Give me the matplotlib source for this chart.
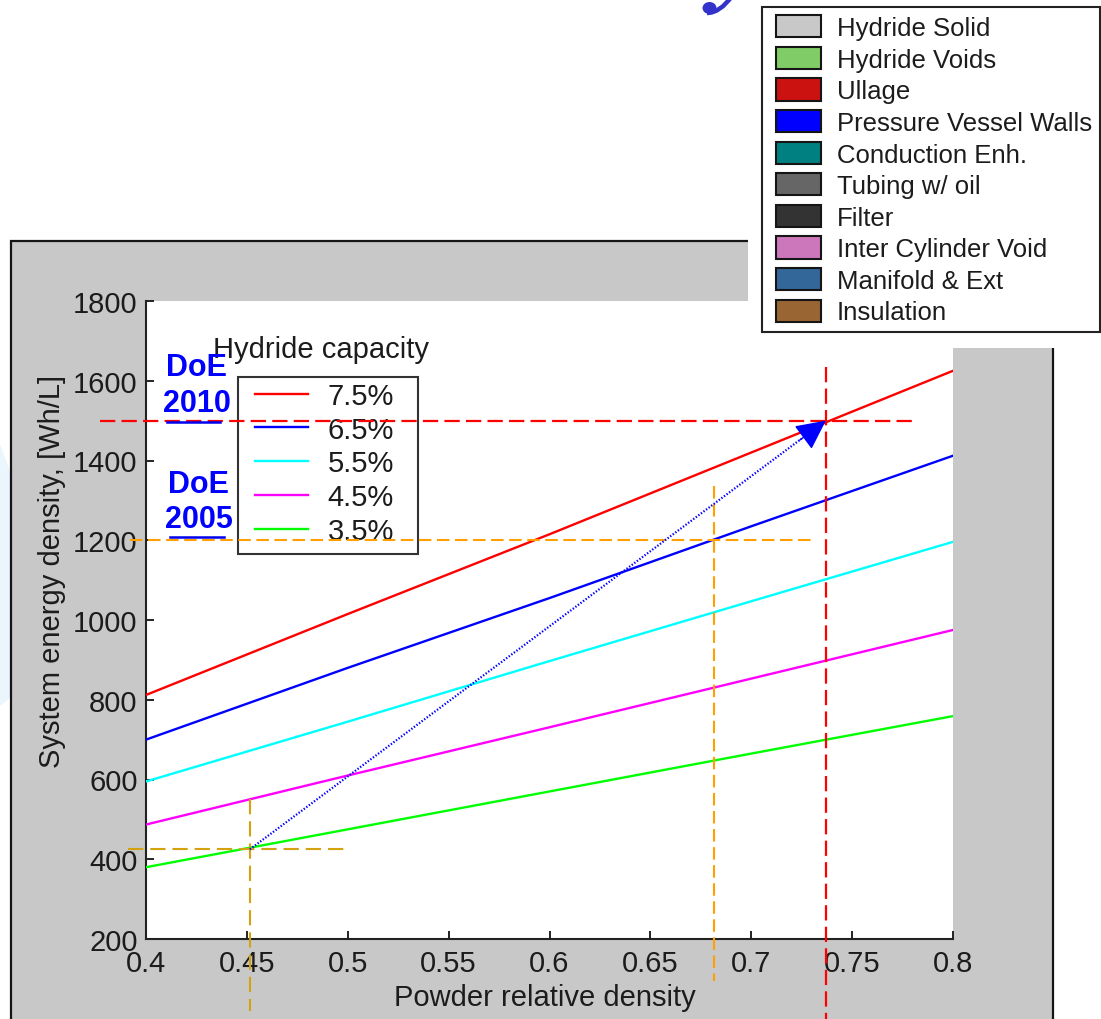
import matplotlib
matplotlib.use("Agg")
import matplotlib.pyplot as plt
from matplotlib.patches import Rectangle, Patch, Polygon, Ellipse, PathPatch
from matplotlib.path import Path

# ---- data ---------------------------------------------------------------
density = [0.40, 0.50, 0.60, 0.70, 0.80]          # powder relative density
energy_75 = [812, 1015, 1215, 1420, 1625]         # Wh/L, 7.5 % capacity
energy_65 = [700, 880, 1055, 1235, 1412]
energy_55 = [595, 745, 897, 1047, 1196]
energy_45 = [487, 610, 731, 853, 975]
energy_35 = [380, 475, 570, 665, 759]
capacity_labels = ["7.5%", "6.5%", "5.5%", "4.5%", "3.5%"]
capacity_colors = ["#ff0000", "#0000ff", "#00ffff", "#ff00ff", "#00ff00"]

# DoE targets (Wh/L) and the densities at which they are reached
target_2010 = 1500
target_2005 = 1200
density_2010 = 0.737
density_2005 = 0.6815
baseline_density = 0.4515
baseline_energy = 425

x_ticks = [0.4, 0.45, 0.5, 0.55, 0.6, 0.65, 0.7, 0.75, 0.8]
x_ticklabels = ["0.4", "0.45", "0.5", "0.55", "0.6", "0.65", "0.7", "0.75", "0.8"]
y_ticks = [200, 400, 600, 800, 1000, 1200, 1400, 1600, 1800]

components = ["Hydride Solid", "Hydride Voids", "Ullage", "Pressure Vessel Walls",
              "Conduction Enh.", "Tubing w/ oil", "Filter", "Inter Cylinder Void",
              "Manifold & Ext", "Insulation"]
component_colors = ["#c8c8c8", "#80cc66", "#cc1111", "#0000ff", "#008080",
                    "#666666", "#333333", "#cc77bb", "#336699", "#996633"]

# ---- figure -------------------------------------------------------------
W, H = 1101, 1020
plt.rcParams["font.family"] = ["Liberation Sans", "DejaVu Sans"]
plt.rcParams["lines.scale_dashes"] = False
fig = plt.figure(figsize=(W / 100, H / 100), dpi=100)
fig.patch.set_facecolor("white")


def fx(px):
    return px / W


def fy(py):
    return 1 - py / H


# pale slide decoration on the far left
fig.add_artist(Polygon([(fx(0), fy(445)), (fx(11), fy(475)), (fx(11), fy(698)),
                        (fx(0), fy(707))], closed=True, transform=fig.transFigure,
                       facecolor="#eaf5fc", edgecolor="none", zorder=-11))

# grey figure panel behind the axes
fig.add_artist(Rectangle((fx(11), fy(1040)), fx(1053) - fx(11), (1040 - 242) / H,
                         transform=fig.transFigure, facecolor="#c8c8c8",
                         edgecolor="#151515", linewidth=1.6, zorder=-10))
fig.add_artist(Rectangle((fx(748), fy(349)), (W + 20 - 748) / W, 349 / H + 0.02,
                         transform=fig.transFigure, facecolor="white",
                         edgecolor="none", zorder=-9))

# blue flourish at the top edge
flourish = "#3333cc"
fig.add_artist(Ellipse((fx(709.5), fy(9)), 14 / W, 12 / H, angle=0,
                       transform=fig.transFigure, facecolor=flourish,
                       edgecolor="none", zorder=2))
fig.add_artist(PathPatch(Path([(fx(707), fy(14)), (fx(720), fy(14)), (fx(732), fy(-3))],
                              [Path.MOVETO, Path.CURVE3, Path.CURVE3]),
                         transform=fig.transFigure, facecolor="none",
                         edgecolor=flourish, linewidth=3.2, zorder=2))

ax = fig.add_axes([fx(146), fy(940), (953 - 146) / W, (940 - 302) / H])
ax.set_facecolor("white")

series = [energy_75, energy_65, energy_55, energy_45, energy_35]
for vals, lab, col in zip(series, capacity_labels, capacity_colors):
    ax.plot(density, vals, color=col, lw=1.7, label=lab, zorder=3)

ax.set_xlim(0.4, 0.8)
ax.set_ylim(200, 1800)
ax.set_xticks(x_ticks)
ax.set_xticklabels(x_ticklabels)
ax.set_yticks(y_ticks)
for s in ("top", "right"):
    ax.spines[s].set_visible(False)
for s in ("left", "bottom"):
    ax.spines[s].set_color("#222222")
    ax.spines[s].set_linewidth(1.5)
ax.tick_params(direction="in", length=6, width=1.4, color="#222222",
               labelsize=21, labelcolor="#1c1c1c")
ax.tick_params(axis="y", pad=6)
ax.tick_params(axis="x", pad=7)

# DoE 2010 target lines
red_dash = dict(color="#ff0000", lw=1.6, dashes=(11, 4.5), clip_on=False, zorder=6)
ax.plot([0.377, 0.7827], [target_2010, target_2010], **red_dash)
ax.plot([density_2010, density_2010], [1634, -10], **red_dash)

# DoE 2005 target lines
orange_dash = dict(color="#ffa000", lw=1.5, dashes=(9, 4), clip_on=False, zorder=6)
ax.plot([0.392, 0.7316], [target_2005, target_2005], **orange_dash)
ax.plot([density_2005, density_2005], [1336, 95], **orange_dash)

# present-day baseline
gold_dash = dict(color="#d4a20f", lw=1.5, dashes=(11, 5), clip_on=False, zorder=6)
ax.plot([0.391, 0.5], [baseline_energy, baseline_energy], **gold_dash)
ax.plot([baseline_density, baseline_density], [551, 19], **gold_dash)

# improvement path from baseline to the 2010 target
ax.plot([baseline_density, density_2010 - 0.012], [baseline_energy, target_2010 - 45],
        color="#0000ff", lw=1.6, linestyle=(0, (1, 1.3)), zorder=6)
ax.annotate("", xy=(density_2010, target_2010),
            xytext=(density_2010 - 0.013, target_2010 - 49),
            arrowprops=dict(arrowstyle="-|>,head_length=0.85,head_width=0.42",
                            color="#0000ff", lw=1.0, mutation_scale=22,
                            shrinkA=0, shrinkB=0), zorder=7)

# capacity key: a framed box with the legend entries inside it
ax.add_patch(Rectangle((fx(238), fy(555)), (418 - 238) / W, (555 - 378) / H,
                       transform=fig.transFigure, facecolor="white",
                       edgecolor="#333333", linewidth=1.5, clip_on=False, zorder=4))
leg = ax.legend(loc="upper left", bbox_to_anchor=(fx(249), fy(377)),
                bbox_transform=fig.transFigure, borderaxespad=0, frameon=False,
                prop={"size": 21}, handlelength=1.82, handletextpad=0.68,
                labelspacing=0.2, borderpad=0.2)
leg.set_zorder(5)
for t in leg.get_texts():
    t.set_color("#1c1c1c")

fig.text(fx(213), fy(350), "Hydride capacity", fontsize=21, color="#1c1c1c",
         ha="left", va="center")
fig.text(fx(52), fy(571), "System energy density, [Wh/L]", fontsize=21,
         color="#1c1c1c", rotation=90, ha="center", va="center")
fig.text(fx(545), fy(998), "Powder relative density", fontsize=21,
         color="#1c1c1c", ha="center", va="center")

# DoE target annotations
doe_style = dict(fontsize=22, fontweight="bold", color="#0000ff", ha="center",
                 va="center")
fig.text(fx(196), fy(368), "DoE", **doe_style)
fig.text(fx(197), fy(404), "2010", **doe_style)
fig.text(fx(198), fy(485), "DoE", **doe_style)
fig.text(fx(199), fy(520), "2005", **doe_style)
fig.add_artist(plt.Line2D([fx(167), fx(220)], [fy(423), fy(423)], color="#0000ee",
                          lw=1.8, transform=fig.transFigure, zorder=8))
fig.add_artist(plt.Line2D([fx(170), fx(224)], [fy(538), fy(538)], color="#0000ee",
                          lw=1.8, transform=fig.transFigure, zorder=8))

# storage-system component key, framed by its own box
fig.add_artist(Rectangle((fx(762), fy(333)), (1100 - 762) / W, (333 - 8) / H,
                         transform=fig.transFigure, facecolor="white",
                         edgecolor="#222222", linewidth=1.5, zorder=4))
handles = [Patch(facecolor=c, edgecolor="#151515", linewidth=1.5)
           for c in component_colors]
leg2 = fig.legend(handles, components, loc="upper left",
                  bbox_to_anchor=(fx(768), fy(8)), bbox_transform=fig.transFigure,
                  borderaxespad=0, frameon=False, prop={"size": 18.5},
                  handlelength=1.75, handleheight=0.95, handletextpad=0.6,
                  labelspacing=0.26, borderpad=0.32)
leg2.set_zorder(5)
for t in leg2.get_texts():
    t.set_color("#1c1c1c")

fig.savefig("out.png", dpi=100, facecolor="white")
